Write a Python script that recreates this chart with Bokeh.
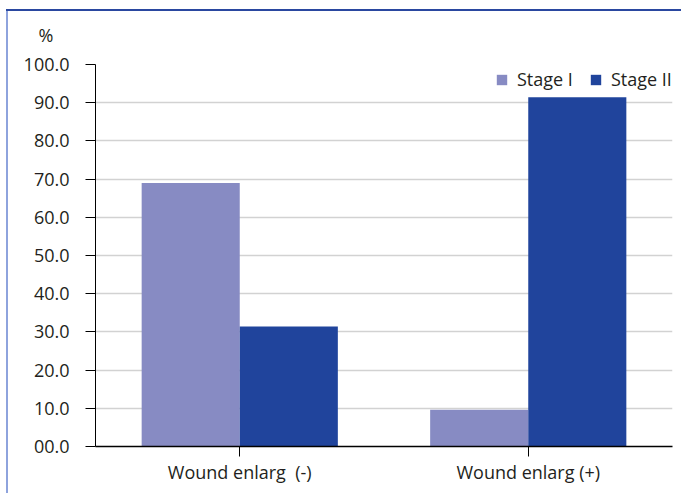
from bokeh.plotting import figure
from bokeh.models import FactorRange, Range1d, Legend, LegendItem, Title, NumeralTickFormatter, ColumnDataSource
from bokeh.transform import dodge
from bokeh.embed import file_html
from bokeh.resources import INLINE

categories = ["Wound enlarg \u00a0(-)", "Wound enlarg (+)"]
series_names = ["Stage I", "Stage II"]
stage1 = [69.0, 9.6]
stage2 = [31.4, 91.4]
y_ticks = [0, 10, 20, 30, 40, 50, 60, 70, 80, 90, 100]

FONT = "Open Sans"
TXT = "#231f20"
C1 = "#878bc3"
C2 = "#20449c"

src = ColumnDataSource(dict(cat=categories, s1=stage1, s2=stage2))

p = figure(width=681, height=493, x_range=FactorRange(*categories), y_range=Range1d(0, 100),
           output_backend="svg", toolbar_location=None,
           min_border_left=95, min_border_right=9, min_border_top=64, min_border_bottom=47)
p.outline_line_color = None
p.background_fill_color = "white"
p.border_fill_color = None

r1 = p.vbar(x=dodge("cat", -0.17, range=p.x_range), top="s1", width=0.34, source=src,
            fill_color=C1, line_color=None)
r2 = p.vbar(x=dodge("cat", 0.17, range=p.x_range), top="s2", width=0.34, source=src,
            fill_color=C2, line_color=None)

p.xgrid.grid_line_color = None
p.ygrid.grid_line_color = "#d2d2d2"
p.ygrid.grid_line_width = 1.5
p.ygrid.ticker = y_ticks

p.yaxis.ticker = y_ticks
p.yaxis.formatter = NumeralTickFormatter(format="0.0")
p.yaxis.major_label_overrides = {0: "00.0"}
p.yaxis.major_tick_out = 10
p.yaxis.major_tick_in = 0
p.yaxis.minor_tick_line_color = None
p.yaxis.axis_line_color = "black"
p.yaxis.major_tick_line_color = "black"
p.yaxis.major_label_standoff = 16

p.xaxis.major_tick_out = 10
p.xaxis.major_tick_in = 0
p.xaxis.axis_line_color = "black"
p.xaxis.axis_line_width = 1.5
p.xaxis.major_tick_line_color = "black"
p.xaxis.major_label_standoff = 3

for ax in (p.xaxis, p.yaxis):
    ax.major_label_text_font = FONT
    ax.major_label_text_font_size = "18px"
    ax.major_label_text_color = TXT

legend = Legend(items=[LegendItem(label=series_names[0], renderers=[r1]),
                       LegendItem(label=series_names[1], renderers=[r2])],
                location=(400, 355), orientation="horizontal",
                border_line_color=None, background_fill_alpha=0,
                label_text_font=FONT, label_text_font_size="18px", label_text_color=TXT,
                glyph_width=13, glyph_height=13, label_standoff=9, spacing=16,
                padding=0, margin=0)
p.add_layout(legend)

p.add_layout(Title(text="%", align="left", offset=-57, standoff=36,
                   text_font=FONT, text_font_size="18px", text_color=TXT,
                   text_font_style="normal"), "above")

p.styles = {
    "background-color": "white",
    "background-image": "linear-gradient(#2a48a0, #2a48a0), linear-gradient(#8ea3dd, #8ea3dd)",
    "background-position": "6px 9px, 6px 9px",
    "background-size": "100% 2px, 2px 100%",
    "background-repeat": "no-repeat, no-repeat",
}

open("out.html", "w").write(file_html(p, INLINE))
